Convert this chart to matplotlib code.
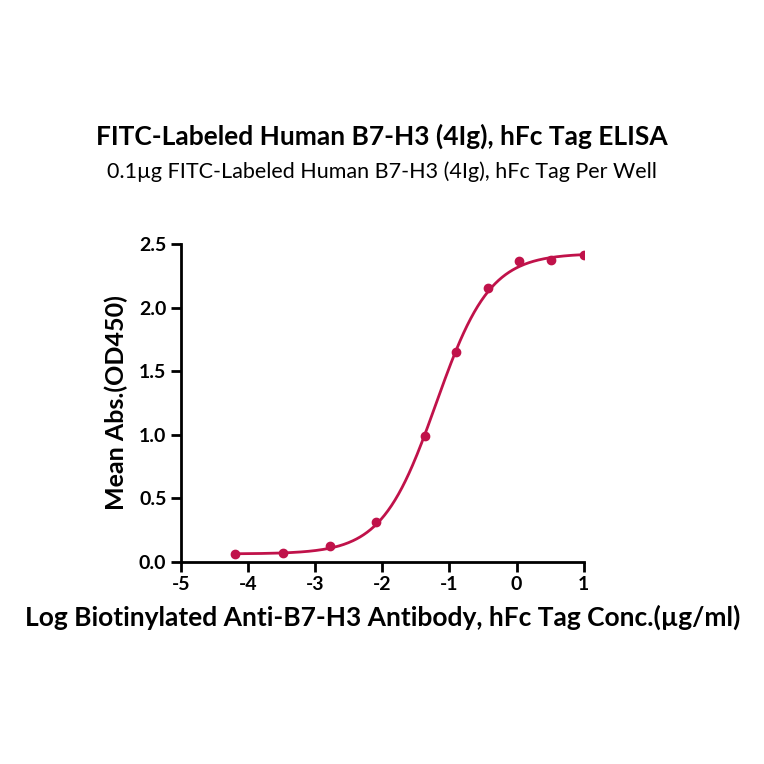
import matplotlib
matplotlib.use("Agg")
import matplotlib.pyplot as plt
import numpy as np

plt.rcParams['font.family'] = ['Lato', 'DejaVu Sans']
plt.rcParams['axes.unicode_minus'] = False

# measured points
log_conc = [-4.19, -3.48, -2.78, -2.10, -1.37, -0.91, -0.43, 0.04, 0.52, 1.00]
od450 = [0.063, 0.07, 0.12, 0.31, 0.99, 1.65, 2.16, 2.37, 2.38, 2.42]

# 4PL fit parameters (bottom, top, logEC50, hill)
fit_bottom, fit_top, fit_c, fit_h = 0.06, 2.43, -1.2, 1.08

color = "#C0124A"

fig = plt.figure(figsize=(7.64, 7.64), dpi=100)
ax = fig.add_axes([0.237, 0.265, 0.527, 0.415])

xs = np.linspace(min(log_conc), max(log_conc), 300)
ys = fit_bottom + (fit_top - fit_bottom) / (1 + 10 ** ((fit_c - xs) * fit_h))
ax.plot(xs, ys, color=color, lw=2)
ax.plot(log_conc, od450, 'o', color=color, ms=6)

ax.set_xlim(-5, 1)
ax.set_ylim(0, 2.5)
ax.set_xticks(range(-5, 2))
ax.set_yticks([0, 0.5, 1.0, 1.5, 2.0, 2.5])
ax.set_yticklabels(["0.0", "0.5", "1.0", "1.5", "2.0", "2.5"])
for s in ["top", "right"]:
    ax.spines[s].set_visible(False)
for s in ["left", "bottom"]:
    ax.spines[s].set_linewidth(2)
ax.tick_params(width=2, length=7, labelsize=14)
for lab in ax.get_xticklabels() + ax.get_yticklabels():
    lab.set_fontweight("bold")

ax.set_xlabel("Log Biotinylated Anti-B7-H3 Antibody, hFc Tag Conc.(\u00b5g/ml)",
              fontsize=19, fontweight="bold", labelpad=8)
ax.set_ylabel("Mean Abs.(OD450)", fontsize=18, fontweight="bold", labelpad=8)

fig.text(0.5, 0.81, "FITC-Labeled Human B7-H3 (4Ig), hFc Tag ELISA",
         ha="center", fontsize=19, fontweight="bold")
fig.text(0.5, 0.767, "0.1\u00b5g FITC-Labeled Human B7-H3 (4Ig), hFc Tag Per Well",
         ha="center", fontsize=15.5)

fig.savefig("out.png", dpi=100)
